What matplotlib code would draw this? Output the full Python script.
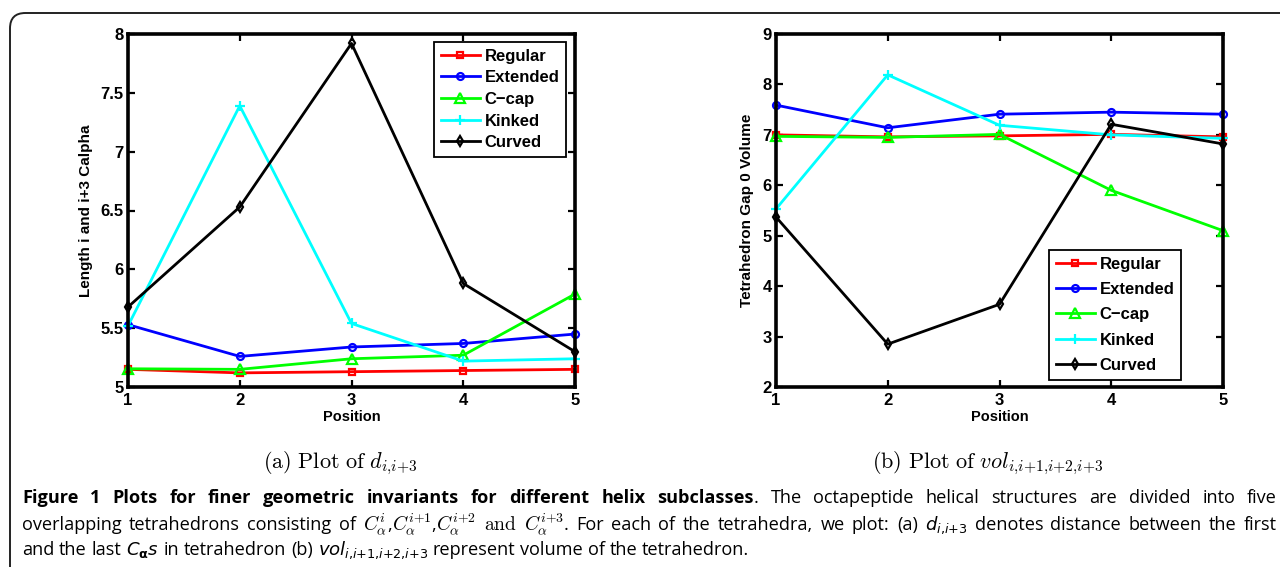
import matplotlib
matplotlib.use("Agg")
import matplotlib.pyplot as plt
from matplotlib.patches import FancyBboxPatch

# ---------------- data ----------------
positions = [1, 2, 3, 4, 5]
series_labels = ["Regular", "Extended", "C\u2212cap", "Kinked", "Curved"]

length_regular = [5.15, 5.12, 5.13, 5.14, 5.15]
length_extended = [5.53, 5.26, 5.34, 5.37, 5.45]
length_ccap = [5.155, 5.15, 5.24, 5.27, 5.79]
length_kinked = [5.52, 7.39, 5.54, 5.22, 5.24]
length_curved = [5.68, 6.53, 7.92, 5.88, 5.30]

vol_regular = [7.00, 6.96, 6.98, 7.01, 6.96]
vol_extended = [7.59, 7.14, 7.41, 7.45, 7.41]
vol_ccap = [6.97, 6.95, 7.01, 5.90, 5.10]
vol_kinked = [5.53, 8.19, 7.19, 7.00, 6.93]
vol_curved = [5.37, 2.85, 3.64, 7.21, 6.82]

length_yticks = [5, 5.5, 6, 6.5, 7, 7.5, 8]
vol_yticks = [2, 3, 4, 5, 6, 7, 8, 9]

colors = ["#ff0000", "#0000ff", "#00ff00", "#00ffff", "#000000"]
markers = ["s", "o", "^", "+", "d"]

W, H = 1280, 567
fig = plt.figure(figsize=(W / 100, H / 100), dpi=100)
fig.patch.set_facecolor("white")

SANS = ["Liberation Sans", "DejaVu Sans"]


def rect(x0, y0, x1, y1):
    return [x0 / W, 1 - y1 / H, (x1 - x0) / W, (y1 - y0) / H]


def style_axes(ax, ylim, yticks, ylabel, ylabel_x):
    ax.set_xlim(1, 5)
    ax.set_ylim(*ylim)
    ax.set_xticks(positions)
    ax.set_yticks(yticks)
    ax.set_xticklabels([f"{p:g}" for p in positions], fontfamily=SANS,
                       fontweight="bold", fontsize=12)
    ax.set_yticklabels([f"{t:g}" for t in yticks], fontfamily=SANS,
                       fontweight="bold", fontsize=12)
    ax.tick_params(direction="in", top=True, right=True, length=5, width=1.6)
    ax.tick_params(axis="x", pad=4)
    ax.tick_params(axis="y", pad=3)
    for sp in ax.spines.values():
        sp.set_linewidth(2.6)
    ax.set_xlabel("Position", fontfamily=SANS, fontweight="bold",
                  fontsize=10.5, labelpad=2)
    ax.set_ylabel(ylabel, fontfamily=SANS, fontweight="bold", fontsize=11)
    ax.yaxis.set_label_coords(ylabel_x, 0.5)


def draw(ax, data):
    for vals, lab, c, m in zip(data, series_labels, colors, markers):
        ms = 6.5 if m in ("+", "^") else 5
        ax.plot(positions, vals, color=c, lw=2, marker=m, ms=ms,
                mfc="none", mec=c, mew=1.6, label=lab, clip_on=False)


def make_legend(ax, x0, y0, spacing):
    leg = ax.legend(loc="upper left", bbox_to_anchor=(x0 / W, 1 - y0 / H),
                    bbox_transform=fig.transFigure, fancybox=False,
                    edgecolor="black", framealpha=1, borderpad=0.4,
                    labelspacing=spacing, handlelength=2.35,
                    handletextpad=0.3, borderaxespad=0,
                    prop={"family": SANS, "weight": "bold", "size": 12})
    leg.get_frame().set_linewidth(1.3)
    return leg


ax1 = fig.add_axes(rect(128, 34, 575, 387))
draw(ax1, [length_regular, length_extended, length_ccap, length_kinked,
           length_curved])
style_axes(ax1, (5, 8), length_yticks, "Length i and i+3 Calpha", -0.078)
make_legend(ax1, 434, 42, 0.40)

ax2 = fig.add_axes(rect(776, 34, 1223, 387))
draw(ax2, [vol_regular, vol_extended, vol_ccap, vol_kinked, vol_curved])
style_axes(ax2, (2, 9), vol_yticks, "Tetrahedron Gap 0 Volume", -0.049)
make_legend(ax2, 1049, 250, 0.62)

# sub captions
fig.text(340 / W, 1 - 463 / H, r"$\mathrm{(a)\ Plot\ of\ }d_{i{,}i{+}3}$",
         math_fontfamily="cm", fontsize=16, ha="center", va="center")
fig.text(988 / W, 1 - 463 / H,
         r"$\mathrm{(b)\ Plot\ of\ }vol_{i{,}i{+}1{,}i{+}2{,}i{+}3}$",
         math_fontfamily="cm", fontsize=16, ha="center", va="center")

# frame
frame = FancyBboxPatch((10 / W, -0.2), 1.2, 1 - 13 / H + 0.2,
                       boxstyle="round,pad=0,rounding_size=0.012",
                       transform=fig.transFigure, fill=False,
                       edgecolor="#222222", lw=1.4, clip_on=False,
                       mutation_aspect=W / H)
fig.add_artist(frame)

# ---------------- caption with justification ----------------
CAP = ["Open Sans", "DejaVu Sans"]
renderer = fig.canvas.get_renderer()


def words(s, kw, first_space=True):
    out = []
    for i, w in enumerate(s.split()):
        out.append((w, kw, first_space if i == 0 else True))
    return out


def build(size):
    reg = dict(fontfamily=CAP, fontsize=size)
    bold = dict(fontfamily=CAP, fontsize=size, fontweight="bold")
    cm = dict(fontfamily=CAP, fontsize=size + 1.0, math_fontfamily="cm")
    sm = dict(fontfamily=CAP, fontsize=size, math_fontfamily="dejavusans")
    l1 = (words("Figure 1 Plots for finer geometric invariants for different helix subclasses", bold)
          + [(".", reg, False)]
          + words("The octapeptide helical structures are divided into five", reg))
    l2 = (words("overlapping tetrahedrons consisting of", reg)
          + [(r"$C_{\alpha}^{i}$", cm, True), (",", reg, False),
             (r"$C_{\alpha}^{i{+}1}$", cm, False), (",", reg, False),
             (r"$C_{\alpha}^{i{+}2}$", cm, False), (r"$\mathrm{and}$", cm, True),
             (r"$C_{\alpha}^{i{+}3}$", cm, True), (".", reg, False)]
          + words("For each of the tetrahedra, we plot: (a)", reg)
          + [(r"$d_{i{,}i{+}3}$", sm, True)]
          + words("denotes distance between the first", reg))
    l3 = (words("and the last", reg)
          + [(r"$C_{\mathbf{\alpha}}s$", sm, True)]
          + words("in tetrahedron (b)", reg)
          + [(r"$vol_{i{,}i{+}1{,}i{+}2{,}i{+}3}$", sm, True)]
          + words("represent volume of the tetrahedron.", reg))
    p1 = fig.text(0, 0, "a a", **reg)
    p2 = fig.text(0, 0, "aa", **reg)
    sp = (p1.get_window_extent(renderer).width
          - p2.get_window_extent(renderer).width)
    p1.remove()
    p2.remove()
    return l1, l2, l3, sp


def measure(tokens, sp):
    total = 0.0
    for i, (s, kw, space) in enumerate(tokens):
        t = fig.text(0, 0, s, **kw)
        total += t.get_window_extent(renderer).width
        t.remove()
        if i > 0 and space:
            total += sp
    return total


# fit the caption font size so the last (unjustified) line has its width
size = 11.0
l1, l2, l3, sp = build(size)
target_w = 753 - 22
size = size * target_w / measure(l3, sp)
l1, l2, l3, space_px = build(size)


def place_line(tokens, x0, x1, ybase, justify):
    objs, widths = [], []
    for s, kw, spc in tokens:
        t = fig.text(0, 1 - ybase / H, s, ha="left", va="baseline", **kw)
        objs.append(t)
        widths.append(t.get_window_extent(renderer).width)
    gaps = sum(1 for tk in tokens[1:] if tk[2])
    natural = sum(widths) + gaps * space_px
    extra = (x1 - x0 - natural) / gaps if (justify and gaps) else 0.0
    x = x0
    for i, (t, w, tk) in enumerate(zip(objs, widths, tokens)):
        if i > 0 and tk[2]:
            x += space_px + extra
        t.set_x(x / W)
        x += w


place_line(l1, 22, 1277, 503, True)
place_line(l2, 22, 1277, 530, True)
place_line(l3, 22, 1277, 555, False)

fig.savefig("out.png", dpi=100)
